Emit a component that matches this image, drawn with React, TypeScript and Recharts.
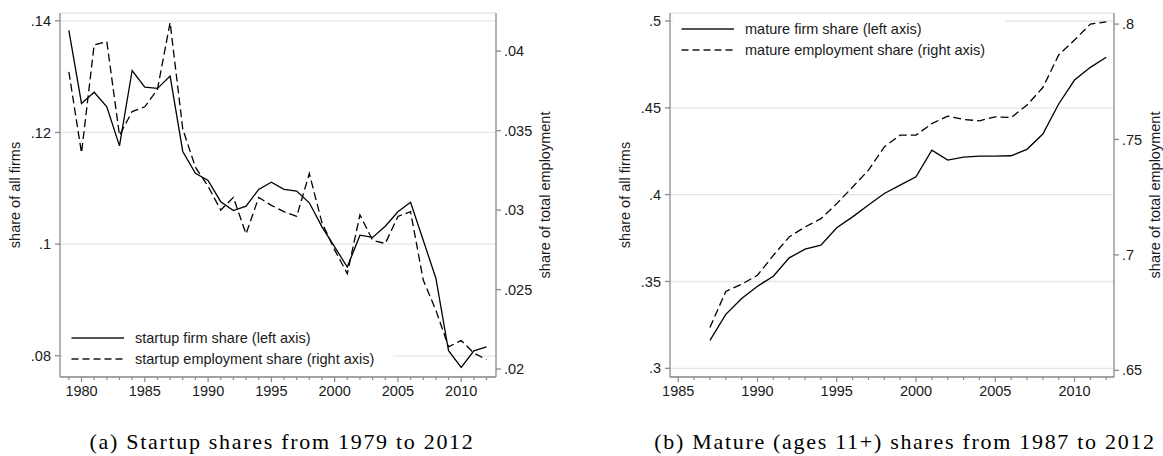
import React from 'react';
import { LineChart, Line, XAxis, YAxis, CartesianGrid, Legend } from 'recharts';

// (a) startup shares, 1979-2012
const startupYears = [
  1979, 1980, 1981, 1982, 1983, 1984, 1985, 1986, 1987, 1988, 1989, 1990,
  1991, 1992, 1993, 1994, 1995, 1996, 1997, 1998, 1999, 2000, 2001, 2002,
  2003, 2004, 2005, 2006, 2007, 2008, 2009, 2010, 2011, 2012,
];
const startupFirmShare = [
  0.1383, 0.1252, 0.1272, 0.1246, 0.1176, 0.1311, 0.1281, 0.1279, 0.1301, 0.1166, 0.1127, 0.1114,
  0.1076, 0.106, 0.1068, 0.1098, 0.1111, 0.1098, 0.1095, 0.1074, 0.1031, 0.0995, 0.0959, 0.1016,
  0.1012, 0.1032, 0.1058, 0.1075, 0.1007, 0.0939, 0.0809, 0.0779, 0.0809, 0.0816,
];
const startupEmpShare = [
  0.0387, 0.0336, 0.0404, 0.0406, 0.0347, 0.0362, 0.0365, 0.0376, 0.0418, 0.0351, 0.0327, 0.0315,
  0.03, 0.0308, 0.0285, 0.0308, 0.0303, 0.0299, 0.0296, 0.0323, 0.0292, 0.0275, 0.026, 0.0297,
  0.0281, 0.0279, 0.0296, 0.0299, 0.0256, 0.0237, 0.0214, 0.0218, 0.021, 0.0206,
];

// (b) mature (11+) shares, 1987-2012
const matureYears = [
  1987, 1988, 1989, 1990, 1991, 1992, 1993, 1994, 1995, 1996, 1997, 1998, 1999,
  2000, 2001, 2002, 2003, 2004, 2005, 2006, 2007, 2008, 2009, 2010, 2011, 2012,
];
const matureFirmShare = [
  0.3161, 0.3311, 0.3402, 0.3473, 0.353, 0.3636, 0.3686, 0.3709, 0.3809, 0.3872, 0.394, 0.4007, 0.4055,
  0.4103, 0.4256, 0.4199, 0.4216, 0.4222, 0.4222, 0.4224, 0.4261, 0.4349, 0.4522, 0.466, 0.4733, 0.4791,
];
const matureEmpShare = [
  0.6685, 0.6842, 0.6873, 0.6912, 0.6998, 0.7078, 0.7121, 0.7157, 0.7222, 0.7294, 0.7367, 0.7468, 0.7519,
  0.7519, 0.7569, 0.7601, 0.7587, 0.7581, 0.7598, 0.7595, 0.7649, 0.7725, 0.7866, 0.7931, 0.8, 0.801,
];

const startupLeftTicks = [0.08, 0.1, 0.12, 0.14];
const startupRightTicks = [0.02, 0.025, 0.03, 0.035, 0.04];
const matureLeftTicks = [0.3, 0.35, 0.4, 0.45, 0.5];
const matureRightTicks = [0.65, 0.7, 0.75, 0.8];
const startupYearTicks = startupYears;
const matureYearTicks = [
  1985, 1986, 1987, 1988, 1989, 1990, 1991, 1992, 1993, 1994, 1995, 1996, 1997, 1998,
  1999, 2000, 2001, 2002, 2003, 2004, 2005, 2006, 2007, 2008, 2009, 2010, 2011, 2012,
];

const startupLegend = ['startup firm share (left axis)', 'startup employment share (right axis)'];
const matureLegend = ['mature firm share (left axis)', 'mature employment share (right axis)'];
const captionA = '(a) Startup shares from 1979 to 2012';
const captionB = '(b) Mature (ages 11+) shares from 1987 to 2012';
const leftTitle = 'share of all firms';
const rightTitle = 'share of total employment';

const SANS = '"Liberation Sans", Arial, Helvetica, sans-serif';
const SERIF = '"Liberation Serif", "Times New Roman", serif';
const INK = '#1a1a1a';
const AXIS = '#8a8a8a';
const GRID = '#e6e6e6';
const FS = 14.5;

const fmtShare = (v: number) => String(+v.toFixed(3)).replace(/^0\./, '.');

function YearTick(props: any) {
  const { x, y, payload } = props;
  const major = payload.value % 5 === 0;
  return (
    <g>
      <line x1={x} x2={x} y1={y} y2={y + (major ? 5 : 3)} stroke={AXIS} strokeWidth={1.2} />
      {major && (
        <text x={x} y={y + 9} dy="0.71em" textAnchor="middle" fontSize={FS} fill={INK} fontFamily={SANS}>
          {payload.value}
        </text>
      )}
    </g>
  );
}

function LegendBox({ labels }: { labels: string[] }) {
  return (
    <div style={{ position: 'relative', width: '100%', height: '100%' }}>
      {labels.map((lab, i) => (
        <div key={lab} style={{ position: 'absolute', left: 0, top: 2 + i * 20.6, height: 20, display: 'flex', alignItems: 'center' }}>
          <svg width={66} height={20} style={{ display: 'block' }}>
            <line x1={8.5} x2={61} y1={10} y2={10} stroke={INK} strokeWidth={1.3} strokeDasharray={i === 1 ? '7 4' : undefined} />
          </svg>
          <span style={{ fontFamily: SANS, fontSize: FS, color: INK, marginLeft: 6, whiteSpace: 'nowrap' }}>{lab}</span>
        </div>
      ))}
    </div>
  );
}

type PanelProps = {
  left: number;
  width: number;
  rightAxisWidth: number;
  years: number[];
  firm: number[];
  emp: number[];
  xDomain: [number, number];
  xTicks: number[];
  lDomain: [number, number];
  rDomain: [number, number];
  lTicks: number[];
  rTicks: number[];
  legend: string[];
  legendStyle: React.CSSProperties;
};

function Panel(p: PanelProps) {
  const data = p.years.map((year, i) => ({ year, firm: p.firm[i], emp: p.emp[i] }));
  const tickStyle = { fontSize: FS, fill: INK, fontFamily: SANS };
  return (
    <div style={{ position: 'absolute', left: p.left, top: 0 }}>
      <LineChart width={p.width} height={400} data={data} margin={{ top: 13, right: 0, bottom: 0, left: 0 }}>
        <CartesianGrid yAxisId="l" vertical={false} stroke={GRID} strokeWidth={1.3} />
        <XAxis
          dataKey="year"
          type="number"
          domain={p.xDomain}
          ticks={p.xTicks}
          interval={0}
          tickSize={0}
          tickMargin={0}
          tickLine={false}
          tick={<YearTick />}
          stroke={AXIS}
          strokeWidth={1.3}
          height={23}
        />
        <YAxis
          yAxisId="l"
          domain={p.lDomain}
          ticks={p.lTicks}
          tickFormatter={fmtShare}
          width={60}
          tickSize={5}
          tickMargin={4}
          tick={tickStyle}
          stroke={AXIS}
          strokeWidth={1.3}
          interval={0}
        />
        <YAxis
          yAxisId="r"
          orientation="right"
          domain={p.rDomain}
          ticks={p.rTicks}
          tickFormatter={fmtShare}
          width={p.rightAxisWidth}
          tickSize={5}
          tickMargin={3}
          tick={tickStyle}
          stroke={AXIS}
          strokeWidth={1.3}
          interval={0}
        />
        <Legend
          layout="vertical"
          align="center"
          verticalAlign="middle"
          wrapperStyle={{ ...p.legendStyle, background: '#fff' }}
          content={() => <LegendBox labels={p.legend} />}
        />
        <Line yAxisId="l" type="linear" dataKey="firm" stroke="#000" strokeWidth={1.3} dot={false} isAnimationActive={false} />
        <Line yAxisId="r" type="linear" dataKey="emp" stroke="#000" strokeWidth={1.3} strokeDasharray="8 4" dot={false} isAnimationActive={false} />
      </LineChart>
    </div>
  );
}

function VTitle({ text, x }: { text: string; x: number }) {
  return (
    <div
      style={{
        position: 'absolute', left: x, top: 195, transform: 'translate(-50%, -50%) rotate(-90deg)',
        fontFamily: SANS, fontSize: FS, color: INK, whiteSpace: 'nowrap', lineHeight: 1,
      }}
    >
      {text}
    </div>
  );
}

function Caption({ text, x }: { text: string; x: number }) {
  return (
    <div
      style={{
        position: 'absolute', left: x, top: 431, transform: 'translateX(-50%)',
        fontFamily: SERIF, fontSize: 22, color: '#000', whiteSpace: 'nowrap', lineHeight: 1, letterSpacing: 1.7,
      }}
    >
      {text}
    </div>
  );
}

export default function App() {
  return (
    <div style={{ position: 'absolute', left: 0, top: 0, width: 1163, height: 456, background: '#fff', overflow: 'hidden' }}>
      <Panel
        left={0}
        width={560}
        rightAxisWidth={64}
        years={startupYears}
        firm={startupFirmShare}
        emp={startupEmpShare}
        xDomain={[1978.3, 2012.75]}
        xTicks={startupYearTicks}
        lDomain={[0.0762, 0.1414]}
        rDomain={[0.0195, 0.0424]}
        lTicks={startupLeftTicks}
        rTicks={startupRightTicks}
        legend={startupLegend}
        legendStyle={{ left: 63, top: 326, width: 330, height: 44 }}
      />
      <Panel
        left={610}
        width={553}
        rightAxisWidth={49}
        years={matureYears}
        firm={matureFirmShare}
        emp={matureEmpShare}
        xDomain={[1984.48, 2012.49]}
        xTicks={matureYearTicks}
        lDomain={[0.295, 0.5046]}
        rDomain={[0.6471, 0.8048]}
        lTicks={matureLeftTicks}
        rTicks={matureRightTicks}
        legend={matureLegend}
        legendStyle={{ left: 63, top: 17, width: 332, height: 46 }}
      />
      <VTitle text={leftTitle} x={15} />
      <VTitle text={rightTitle} x={545} />
      <VTitle text={leftTitle} x={625} />
      <VTitle text={rightTitle} x={1155} />
      <Caption text={captionA} x={282} />
      <Caption text={captionB} x={905} />
    </div>
  );
}
